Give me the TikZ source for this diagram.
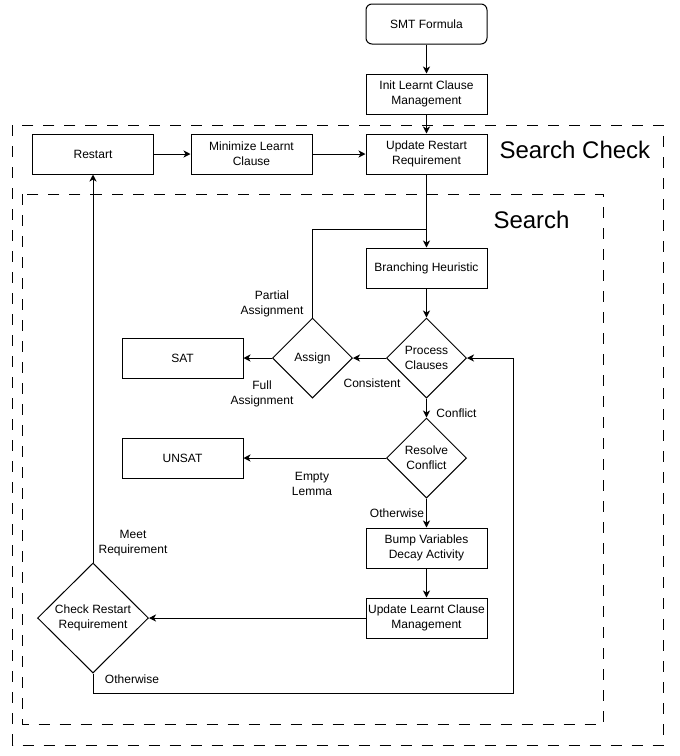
\documentclass[tikz,border=0pt]{standalone}
\usepackage{fontspec}
\setmainfont{Liberation Sans}
\usetikzlibrary{shapes.geometric,arrows.meta}

\begin{document}
\begin{tikzpicture}[x=1pt,y=-1pt,font=\fontsize{12}{15}\selectfont,line width=1pt,
    >={Stealth[length=7pt,width=7pt,inset=2pt]}]

        \useasboundingbox (0,0) rectangle (680,756);

        % dashed frames
        \draw[dash pattern=on 11pt off 10pt] (12.5,125) rectangle (663,745);
        \draw[dash pattern=on 11pt off 10pt] (22.5,194) rectangle (603,724);
        \node[font=\fontsize{24}{28}\selectfont, anchor=base west, inner sep=0pt] (t1) at (499,158) {Search Check};
        \node[font=\fontsize{24}{28}\selectfont, anchor=base west, inner sep=0pt] (t2) at (493,228) {Search};

        \begin{scope}[every node/.style={draw, rectangle, minimum width=121pt, minimum height=40pt, align=center, inner sep=0pt}]
          \node[rounded corners=6pt] (1) at (426.5,24) {SMT Formula};
          \node (2)  at (426.5,94)  {Init Learnt Clause\\Management};
          \node (3)  at (93,154)    {Restart};
          \node (4)  at (251.5,154) {Minimize Learnt\\Clause};
          \node (5)  at (426.5,154) {Update Restart\\Requirement};
          \node (6)  at (426.5,268) {Branching Heuristic};
          \node (9)  at (182.5,358) {SAT};
          \node (11) at (182.5,458) {UNSAT};
          \node (12) at (426.5,548) {Bump Variables\\Decay Activity};
          \node (13) at (426.5,618) {Update Learnt Clause\\Management};
        \end{scope}

        \begin{scope}[every node/.style={draw, diamond, minimum width=80pt, minimum height=80pt, align=center, inner sep=0pt}]
          \node (7)  at (426.5,358) {Process\\Clauses};
          \node (8)  at (312.5,358) {Assign};
          \node (10) at (426.5,458) {Resolve\\Conflict};
          \node[minimum width=111pt, minimum height=110pt] (14) at (93,618) {Check Restart\\Requirement};
        \end{scope}

        \begin{scope}[every node/.style={align=center, inner sep=0pt}]
          \node (l1) at (272,303.5) {Partial\\Assignment};
          \node (l2) at (262,393.5) {Full\\Assignment};
          \node (l3) at (372,383)   {Consistent};
          \node (l4) at (456.5,413) {Conflict};
          \node (l5) at (312,483.5) {Empty\\Lemma};
          \node (l6) at (397,513)   {Otherwise};
          \node (l7) at (133,543.5) {Meet\\Requirement};
          \node (l8) at (132,679)   {Otherwise};
        \end{scope}

        \coordinate (j) at (426.5,229);
        \coordinate (k) at (513,693);

        \begin{scope}[every edge/.style={draw,->}]
          \path (1)  edge (2);
          \path (2)  edge (5);
          \path (3)  edge (4);
          \path (4)  edge (5);
          \path (5)  edge (6);
          \path (6)  edge (7);
          \path (7)  edge (8);
          \path (8)  edge (9);
          \path (7)  edge (10);
          \path (10) edge (11);
          \path (10) edge (12);
          \path (12) edge (13);
          \path (13) edge (14);
          \path (14) edge (3);
        \end{scope}
        \draw (8.north) |- (j);
        \draw[->] (14.south) |- (k) |- (7.east);

      \end{tikzpicture}
\end{document}
